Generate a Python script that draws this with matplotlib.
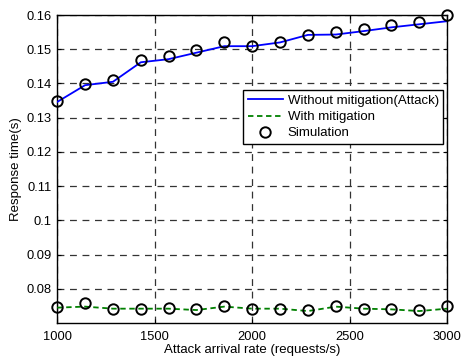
import numpy as np
import matplotlib.pyplot as plt

plt.rcParams['font.family'] = ['Liberation Sans', 'DejaVu Sans']

# arrival rates (requests/s)
rates = [1000, 1143, 1286, 1429, 1571, 1714, 1857, 2000,
         2143, 2286, 2429, 2571, 2714, 2857, 3000]

# analytical model
without_mitigation = [0.1346, 0.1395, 0.1405, 0.1462, 0.1471, 0.1490, 0.1509, 0.1509,
                      0.1520, 0.1542, 0.1543, 0.1553, 0.1564, 0.1573, 0.1582]
with_mitigation = [0.0745, 0.0748, 0.0742, 0.0742, 0.0742, 0.0738, 0.0748, 0.0742,
                   0.0742, 0.0735, 0.0748, 0.0742, 0.0740, 0.0735, 0.0742]

# simulation results
sim_attack = [0.1349, 0.1399, 0.1410, 0.1469, 0.1481, 0.1498, 0.1520, 0.1510,
              0.1521, 0.1541, 0.1549, 0.1560, 0.1571, 0.1580, 0.1600]
sim_mitigation = [0.0748, 0.0758, 0.0740, 0.0740, 0.0743, 0.0740, 0.0750, 0.0742,
                  0.0742, 0.0739, 0.0750, 0.0742, 0.0742, 0.0739, 0.0750]

xticks = [1000, 1500, 2000, 2500, 3000]
yticks = [0.08, 0.09, 0.1, 0.11, 0.12, 0.13, 0.14, 0.15, 0.16]
ytick_labels = ['0.08', '0.09', '0.1', '0.11', '0.12', '0.13', '0.14', '0.15', '0.16']

fig = plt.figure(figsize=(4.61, 3.58), dpi=100)
ax = fig.add_axes([0.124, 0.0986, 0.846, 0.8594])

ax.plot(rates, without_mitigation, color='#0000ff', linewidth=1.3,
        label='Without mitigation(Attack)', zorder=3)
ax.plot(rates, with_mitigation, color='#008000', linewidth=1.3, linestyle='--',
        dashes=(3, 2), label='With mitigation', zorder=3)
ax.plot(rates, sim_attack, linestyle='none', marker='o', markersize=7.5,
        markerfacecolor='none', markeredgecolor='k', markeredgewidth=1.4,
        label='Simulation', zorder=4, clip_on=False)
ax.plot(rates, sim_mitigation, linestyle='none', marker='o', markersize=7.5,
        markerfacecolor='none', markeredgecolor='k', markeredgewidth=1.4,
        zorder=4, clip_on=False)

ax.set_xlim(1000, 3000)
ax.set_ylim(0.0701, 0.16)
ax.set_xticks(xticks)
ax.set_yticks(yticks)
ax.set_yticklabels(ytick_labels)
ax.tick_params(direction='in', length=3, labelsize=9.3, top=True, right=True,
               colors='k')
ax.tick_params(axis='x', pad=6)
ax.tick_params(axis='y', pad=4)
ax.grid(True, color='#333333', linestyle='--', dashes=(5.5, 4.5), linewidth=0.9)
for s in ax.spines.values():
    s.set_linewidth(1.0)
    s.set_color('k')

ax.set_xlabel('Attack arrival rate (requests/s)', fontsize=9.5, labelpad=1)
ax.set_ylabel('Response time(s)', fontsize=9.5, labelpad=3)

leg = ax.legend(loc='upper right', bbox_to_anchor=(0.99, 0.756), fontsize=9.5,
                fancybox=False, framealpha=1, edgecolor='k', borderaxespad=0,
                handlelength=2.65, handletextpad=0.35, labelspacing=0.3,
                borderpad=0.35)
leg.get_frame().set_linewidth(1.0)

fig.savefig('out.png', dpi=100)
